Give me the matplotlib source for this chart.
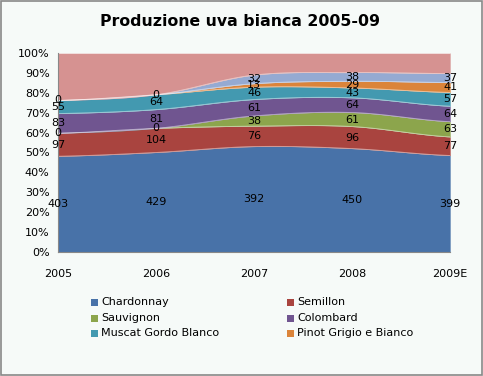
import numpy as np
import matplotlib.pyplot as plt
from matplotlib.patches import Rectangle

anni = ['2005', '2006', '2007', '2008', '2009E']
chardonnay = [403, 429, 392, 450, 399]
semillon = [97, 104, 76, 96, 77]
sauvignon = [0, 0, 38, 61, 63]
colombard = [83, 81, 61, 64, 64]
muscat = [55, 64, 46, 43, 57]
pinot = [0, 0, 13, 29, 41]
altri_bianchi = [None, None, 32, 38, 37]   # serie senza voce in legenda
resto = [200, 180, 82, 85, 85]             # fascia rosa, senza etichette

nomi = ['Chardonnay', 'Semillon', 'Sauvignon', 'Colombard',
        'Muscat Gordo Blanco', 'Pinot Grigio e Bianco']
colori = ['#4872A8', '#A9443F', '#8CA54C', '#705590', '#4399B0', '#DB843A',
          '#95AAD2', '#D69291']

serie = [chardonnay, semillon, sauvignon, colombard, muscat, pinot,
         altri_bianchi, resto]
etichette = [True] * 7 + [False]

W, H = 483, 376
bg = '#F6FAF8'
fig = plt.figure(figsize=(W / 100, H / 100), dpi=100, facecolor=bg)
ax = fig.add_axes([0.120, 0.330, 0.812, 0.529], facecolor=bg)

vals = np.array([[0 if v is None else v for v in s] for s in serie], dtype=float)
perc = vals / vals.sum(axis=0) * 100
cum = np.vstack([np.zeros(len(anni)), np.cumsum(perc, axis=0)])

x = np.arange(len(anni), dtype=float)


# curve smussate (Catmull-Rom) come il grafico di Excel
def smooth(xp, yp, n=30):
    xs, ys = [], []
    P = np.concatenate([[yp[0]], yp, [yp[-1]]])
    for i in range(len(xp) - 1):
        t = np.linspace(0, 1, n, endpoint=False)
        p0, p1, p2, p3 = P[i], P[i + 1], P[i + 2], P[i + 3]
        y = 0.5 * ((2 * p1) + (-p0 + p2) * t + (2 * p0 - 5 * p1 + 4 * p2 - p3) * t ** 2
                   + (-p0 + 3 * p1 - 3 * p2 + p3) * t ** 3)
        xs.append(xp[i] + t)
        ys.append(y)
    xs.append([xp[-1]])
    ys.append([yp[-1]])
    return np.concatenate(xs), np.concatenate(ys)


curve = [smooth(x, c) for c in cum]
for i in range(len(serie)):
    xs, lo = curve[i]
    _, hi = curve[i + 1]
    ax.fill_between(xs, lo, hi, color=colori[i], lw=0)
    ax.plot(xs, hi, color='white', lw=0.6, alpha=0.5)

for i, s in enumerate(serie):
    if not etichette[i]:
        continue
    for j, v in enumerate(s):
        if v is None:
            continue
        ymid = (cum[i, j] + cum[i + 1, j]) / 2
        ax.text(x[j], ymid, str(v), ha='center', va='center', fontsize=8, color='black')

ax.set_xlim(0, len(anni) - 1)
ax.set_ylim(0, 100)
ax.set_yticks(np.arange(0, 101, 10))
ax.set_yticklabels([f'{v}%' for v in range(0, 101, 10)], fontsize=8)
ax.set_xticks(x)
ax.set_xticklabels(anni, fontsize=8)
ax.tick_params(length=0, pad=6)
ax.tick_params(axis='x', pad=12)
for s in ['top', 'right']:
    ax.spines[s].set_visible(False)
for s in ['left', 'bottom']:
    ax.spines[s].set_color('#888888')

fig.text(240 / W, 1 - 22 / H, 'Produzione uva bianca 2005-09', ha='center', va='center',
         fontsize=11.3, fontweight='bold')

# legenda disposta per righe, come in Excel
col_x = [91, 287]
row_y = [302, 318, 333]
for k, nome in enumerate(nomi):
    cx = col_x[k % 2]
    cy = row_y[k // 2]
    fig.patches.append(Rectangle((cx / W, 1 - (cy + 3.5) / H), 6.5 / W, 6.5 / H,
                                 transform=fig.transFigure, facecolor=colori[k],
                                 edgecolor='none'))
    fig.text((cx + 10) / W, 1 - cy / H, nome, ha='left', va='center', fontsize=8)

fig.patches.append(Rectangle((0.002, 0.003), 0.996, 0.994, transform=fig.transFigure,
                             fill=False, edgecolor='#888888', lw=1.2))

plt.savefig('out.png', dpi=100, facecolor=bg)
